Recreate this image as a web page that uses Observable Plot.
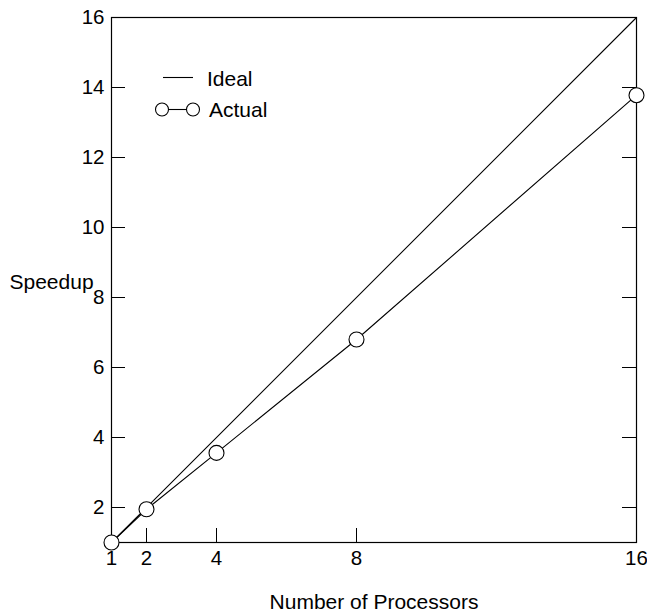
<!DOCTYPE html>
<html>
<head>
<meta charset="utf-8">
<script src="https://cdn.jsdelivr.net/npm/d3@7"></script>
<script src="https://cdn.jsdelivr.net/npm/@observablehq/plot@0.6"></script>
<style>
  html, body { margin: 0; padding: 0; background: #fff; }
  #chart svg { display: block; font-family: "Liberation Sans", Arial, sans-serif; }
</style>
</head>
<body>
<div id="chart"></div>
<script>
const processors = [1, 2, 4, 8, 16];
const actualSpeedup = [1, 1.95, 3.56, 6.8, 13.78];
const idealSpeedup = [1, 16];
const idealProcessors = [1, 16];
const xTicks = [1, 2, 4, 8, 16];
const yTicks = [2, 4, 6, 8, 10, 12, 14, 16];
const xLabel = "Number of Processors";
const yLabel = "Speedup";
const legendLabels = ["Ideal", "Actual"];

const actual = processors.map((p, i) => ({p, s: actualSpeedup[i]}));
const ideal = idealProcessors.map((p, i) => ({p, s: idealSpeedup[i]}));

const svg = Plot.plot({
  width: 647,
  height: 612,
  marginLeft: 111,
  marginRight: 11,
  marginTop: 17,
  marginBottom: 70,
  style: {fontFamily: '"Liberation Sans", Arial, sans-serif', fontSize: "20px", color: "#000", background: "#fff"},
  x: {type: "linear", domain: [1, 16]},
  y: {type: "linear", domain: [1, 16]},
  marks: [
    Plot.frame({stroke: "#000", strokeWidth: 1.2}),
    Plot.axisY(yTicks, {anchor: "left", tickSize: -14, tickFormat: () => "", label: null, stroke: "#000"}),
    Plot.axisY(yTicks, {anchor: "right", tickSize: -15, tickFormat: () => "", label: null, stroke: "#000"}),
    Plot.axisX(xTicks, {anchor: "bottom", tickSize: -14, tickFormat: () => "", label: null, stroke: "#000"}),
    Plot.axisY(yTicks, {anchor: "left", tickSize: 0, tickPadding: 7, label: null, fontSize: 20.5, fill: "#000"}),
    Plot.axisX(xTicks, {anchor: "bottom", tickSize: 0, tickPadding: 8, label: null, fontSize: 20.5, fill: "#000"}),
    Plot.line(ideal, {x: "p", y: "s", stroke: "#000", strokeWidth: 1.1}),
    Plot.line(actual, {x: "p", y: "s", stroke: "#000", strokeWidth: 1.1}),
    Plot.dot(actual, {x: "p", y: "s", r: 7.5, fill: "#fff", stroke: "#000", strokeWidth: 1.1}),
    Plot.text([yLabel], {frameAnchor: "left", dx: -102, dy: 2, textAnchor: "start", fontSize: 21, fill: "#000"}),
    Plot.text([xLabel], {frameAnchor: "bottom", dy: 66, fontSize: 21, fill: "#000"})
  ]
});

// Legend (inside plot area, top-left)
const g = d3.select(svg).append("g").attr("font-size", 21).attr("fill", "#000").attr("text-anchor", "start");
g.append("line").attr("x1", 163).attr("x2", 193).attr("y1", 77.5).attr("y2", 77.5)
  .attr("stroke", "#000").attr("stroke-width", 1.1);
g.append("text").attr("x", 207).attr("y", 86).text(legendLabels[0]);
g.append("line").attr("x1", 162).attr("x2", 193).attr("y1", 109.5).attr("y2", 109.5)
  .attr("stroke", "#000").attr("stroke-width", 1.1);
[162, 193].forEach(cx => g.append("circle").attr("cx", cx).attr("cy", 109.5).attr("r", 6.5)
  .attr("fill", "#fff").attr("stroke", "#000").attr("stroke-width", 1.1));
g.append("text").attr("x", 209).attr("y", 117).text(legendLabels[1]);

document.getElementById("chart").appendChild(svg);
</script>
</body>
</html>
